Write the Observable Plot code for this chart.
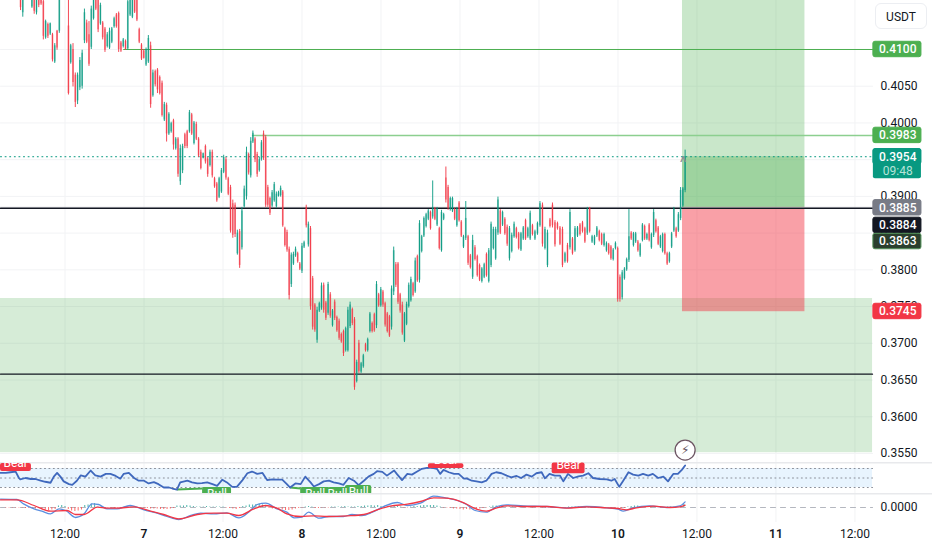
<!DOCTYPE html>
<html><head><meta charset="utf-8">
<script src="https://cdn.jsdelivr.net/npm/d3@7"></script>
<script src="https://cdn.jsdelivr.net/npm/@observablehq/plot@0.6"></script>
<style>
html,body{margin:0;padding:0;background:#fff;overflow:hidden}
#chart{position:relative;width:932px;height:550px;font-family:Roboto,sans-serif}
#chart svg{display:block}
#unit{position:absolute;left:875px;top:3px;width:52px;height:26px;line-height:26px;box-sizing:border-box;border:1px solid #eceef2;border-radius:6px;background:#fff;text-align:center;font-size:12px;color:#131722}
</style></head><body><div id="chart"><div id="unit">USDT</div></div>
<script>
// Candle values, in 0.0001 price steps
const highs=[4175,4176,4195,4198,4195,4172,4175,4175,4172,4170,
4175,4140,4136,4136,4122,4108,4126,4180,4195,4195,
4192,4175,4107,4108,4068,4068,4089,4099,4155,4140,
4138,4159,4172,4172,4176,4163,4138,4130,4123,4129,
4130,4144,4149,4151,4111,4115,4113,4170,4172,4172,
4174,4172,4129,4108,4100,4102,4119,4110,4072,4072,
4074,4064,4057,4028,4027,4014,4001,4005,3980,3980,
3970,3971,3986,3990,4017,4013,4002,4001,3980,3963,
3959,3970,3953,3963,3963,3926,3919,3926,3938,3956,
3953,3926,3915,3895,3891,3854,3855,3885,3914,3967,
3959,3980,3989,3980,3960,3953,3976,3989,3983,3915,
3899,3908,3919,3906,3907,3914,3908,3858,3854,3831,
3823,3824,3831,3824,3810,3836,3839,3888,3865,3859,
3791,3754,3749,3756,3782,3782,3757,3783,3769,3746,
3759,3737,3733,3714,3718,3722,3749,3756,3748,3735,
3677,3704,3674,3685,3700,3707,3742,3729,3741,3784,
3768,3776,3772,3756,3742,3738,3778,3831,3810,3810,
3768,3756,3742,3756,3782,3790,3783,3816,3820,3867,
3847,3872,3877,3882,3880,3921,3885,3885,3858,3881,
3877,3940,3915,3899,3899,3884,3885,3893,3867,3847,
3893,3847,3821,3847,3833,3820,3808,3803,3809,3823,
3829,3865,3858,3858,3899,3882,3880,3871,3861,3859,
3850,3865,3858,3851,3851,3859,3869,3858,3880,3862,
3854,3865,3893,3891,3858,3854,3870,3891,3867,3865,
3859,3858,3824,3836,3882,3844,3859,3859,3863,3866,
3858,3885,3885,3847,3847,3859,3854,3850,3850,3838,
3836,3833,3829,3838,3831,3793,3799,3803,3816,3882,
3852,3851,3851,3840,3836,3863,3861,3850,3863,3850,
3882,3869,3859,3847,3850,3850,3824,3824,3851,3885,
3858,3878,3912,3912,3963];
const lows=[4153,4144,4175,4176,4172,4156,4148,4147,4157,4160,
4113,4114,4115,4119,4083,4081,4099,4122,4172,4170,
4168,4038,4080,4049,4021,4025,4044,4046,4108,4108,
4077,4100,4140,4153,4123,4133,4113,4096,4102,4100,
4108,4129,4129,4096,4096,4102,4099,4099,4145,4142,
4149,4138,4108,4085,4087,4077,4081,4020,4035,4049,
4040,4038,4008,4002,3974,3983,3986,3963,3963,3926,
3915,3931,3965,3965,3986,3983,3970,3976,3953,3936,
3951,3944,3926,3940,3925,3911,3892,3897,3904,3931,
3922,3901,3850,3843,3844,3820,3802,3827,3884,3895,
3929,3925,3972,3946,3926,3933,3948,3949,3885,3885,
3874,3885,3892,3884,3899,3899,3858,3831,3824,3759,
3776,3806,3817,3809,3799,3795,3829,3857,3831,3745,
3718,3715,3700,3742,3745,3741,3731,3738,3734,3722,
3731,3715,3704,3700,3682,3688,3688,3720,3724,3636,
3646,3659,3659,3666,3688,3688,3714,3714,3715,3720,
3749,3749,3749,3722,3714,3708,3718,3765,3776,3753,
3741,3711,3701,3724,3748,3756,3763,3768,3783,3782,
3823,3844,3857,3867,3854,3869,3867,3859,3827,3824,
3867,3891,3881,3880,3878,3867,3858,3865,3844,3829,
3840,3806,3801,3787,3812,3790,3784,3782,3788,3790,
3782,3803,3827,3813,3847,3848,3859,3847,3832,3812,
3823,3843,3842,3827,3825,3840,3840,3843,3840,3846,
3840,3847,3858,3831,3827,3803,3857,3857,3831,3854,
3833,3803,3809,3809,3827,3820,3824,3844,3846,3850,
3836,3847,3850,3836,3833,3844,3838,3833,3831,3824,
3820,3813,3812,3827,3756,3756,3759,3786,3798,3810,
3840,3831,3836,3824,3817,3838,3840,3840,3838,3828,
3844,3850,3833,3829,3823,3820,3806,3809,3829,3851,
3843,3851,3867,3885,3905];
const opens=[4172,4150,4178,4192,4176,4158,4170,4150,4170,4168,
4165,4116,4134,4121,4120,4083,4125,4125,4190,4175,
4188,4132,4082,4100,4065,4030,4048,4050,4112,4136,
4120,4103,4142,4170,4172,4135,4136,4128,4104,4102,
4110,4131,4147,4149,4109,4104,4111,4101,4147,4144,
4170,4168,4127,4106,4098,4079,4083,4105,4037,4070,
4072,4062,4054,4004,4024,3985,3988,4003,3965,3978,
3920,3935,3984,3988,3988,4011,3972,3998,3978,3960,
3952,3968,3951,3942,3960,3924,3917,3899,3906,3933,
3950,3924,3912,3890,3888,3822,3852,3830,3886,3900,
3957,3928,3974,3978,3957,3935,3950,3985,3980,3912,
3897,3887,3894,3886,3900,3901,3906,3856,3851,3828,
3780,3808,3819,3822,3808,3798,3831,3885,3834,3856,
3788,3752,3704,3744,3748,3779,3755,3741,3766,3724,
3756,3735,3730,3712,3716,3690,3690,3723,3746,3732,
3648,3700,3661,3668,3698,3690,3716,3727,3739,3724,
3766,3751,3770,3754,3740,3736,3722,3770,3807,3808,
3766,3752,3703,3726,3750,3758,3781,3770,3818,3786,
3825,3846,3859,3869,3878,3872,3883,3861,3856,3826,
3869,3925,3912,3882,3880,3882,3860,3891,3865,3831,
3843,3845,3819,3790,3830,3818,3806,3784,3790,3821,
3784,3806,3829,3815,3850,3880,3861,3869,3858,3815,
3825,3845,3856,3849,3827,3842,3867,3845,3842,3860,
3842,3849,3860,3888,3829,3806,3868,3888,3864,3863,
3857,3855,3811,3833,3830,3842,3826,3846,3861,3864,
3856,3850,3883,3838,3835,3846,3852,3848,3833,3826,
3834,3831,3814,3829,3829,3790,3762,3788,3800,3813,
3850,3833,3838,3838,3819,3840,3859,3842,3861,3830,
3847,3867,3857,3831,3825,3848,3822,3811,3831,3853,
3856,3853,3870,3887,3908];
const closes=[4157,4172,4190,4180,4190,4170,4152,4172,4160,4162,
4118,4138,4118,4135,4086,4105,4102,4175,4176,4190,
4172,4040,4105,4055,4028,4065,4085,4095,4150,4110,
4080,4155,4170,4155,4127,4160,4116,4099,4120,4125,
4128,4142,4131,4100,4098,4113,4100,4165,4170,4170,
4151,4140,4110,4087,4088,4100,4115,4025,4068,4052,
4045,4040,4010,4025,3985,4012,3999,3970,3978,3930,
3965,3968,3968,3968,4014,3985,4000,3978,3955,3938,
3958,3947,3930,3960,3928,3913,3894,3924,3935,3953,
3925,3903,3853,3847,3848,3850,3806,3880,3910,3960,
3932,3975,3986,3950,3930,3950,3973,3952,3888,3888,
3877,3905,3916,3903,3905,3911,3860,3833,3827,3765,
3820,3821,3828,3811,3801,3832,3837,3860,3862,3750,
3722,3718,3745,3754,3778,3745,3734,3780,3737,3744,
3734,3717,3707,3702,3686,3720,3745,3752,3727,3640,
3674,3662,3672,3683,3690,3705,3740,3716,3717,3780,
3751,3773,3752,3725,3716,3710,3774,3826,3779,3756,
3744,3714,3740,3753,3779,3787,3765,3812,3785,3863,
3845,3870,3875,3880,3856,3885,3869,3883,3829,3878,
3875,3895,3884,3897,3897,3869,3883,3867,3846,3845,
3870,3809,3803,3840,3814,3792,3786,3801,3807,3792,
3826,3862,3855,3855,3895,3850,3878,3849,3835,3856,
3847,3862,3844,3829,3849,3857,3842,3856,3877,3848,
3852,3863,3890,3835,3855,3850,3859,3860,3834,3856,
3835,3806,3822,3811,3878,3822,3856,3857,3848,3852,
3838,3882,3852,3845,3845,3857,3840,3835,3848,3836,
3822,3815,3827,3836,3760,3760,3796,3801,3814,3845,
3842,3849,3849,3826,3834,3861,3842,3848,3840,3848,
3878,3852,3835,3845,3848,3822,3808,3822,3849,3882,
3845,3875,3908,3910,3954];
// Where bar numbers fall in time (hours after the 7th, 00:00)
const barAnchorRows=[0,99,129,159,179,199,229,249,259,294];
const barAnchorHours=[-18.76,15.57,25.29,35.32,41.85,48.53,59.01,66.61,70.25,82.2];

// RSI pane
const rsiHours=[-21.8,-21,-20.3,-19.5,-19,-18.8,-18,-17.2,-16.5,-15.7,-15,-14.2,-13.7,-13.2,-12.7,-12.2,-11.4,-10.9,-10.2,-9.6,-8.9,-8.1,-7.4,-6.6,-5.8,-5.1,-4.3,-3.6,-3.1,-2.3,-1.5,-0.8,0,0.7,1.5,2.2,3,3.8,4.3,5,5.5,6.6,7.3,8.1,8.8,9.6,10.4,11.1,11.9,12.6,13.4,14.1,14.9,15.7,16.4,17.2,18,18.7,19.5,20.2,21,21.7,22.2,23,23.8,24.5,25.3,25.8,26.6,27.3,28.1,28.8,29.6,30.3,31.1,31.9,32.6,33.4,34.1,34.9,35.4,36.2,36.9,38,38.4,39.2,40,40.7,41.5,42.2,43,43.8,44.5,45,45.5,46.3,47.1,47.8,48.6,49,49.8,50.5,51.3,52,52.8,53.5,54.3,55.1,55.8,56.6,57.3,58.1,58.9,59.6,60.4,60.9,61.6,62.4,63.2,63.7,64.4,65.2,66,66.7,67.5,68.2,69.2,70.3,71,71.5,72.2,72.8,73.6,74.3,75.1,75.8,76.6,77.3,78.1,78.9,79.6,80.4,81.1,81.7,82.2];
const rsiValues=[60.7,60.7,62.1,63.6,50,47.1,50,47.9,47.9,44.3,42.1,40,52.9,60.7,52.9,42.9,37.1,35.7,44.3,55.7,52.9,65.7,55.7,52.9,58.6,58.6,54.3,48.6,58.6,60.7,50,44.3,44.3,38.6,41.4,37.1,30,30,27.9,25.7,40.7,44.3,40.7,38.6,39.3,40.7,37.1,33.6,46.4,40.7,31.4,31.4,44.3,60,63.6,58.6,60.7,45.7,47.1,46.4,46.4,37.1,30,38.6,37.1,52.9,40.7,32.1,37.1,42.9,44.3,40.7,38.6,35.7,50,44.3,35,44.3,52.9,58.6,64.3,62.9,55,65.7,58.6,45.7,58.6,57.1,63.6,69.3,71.4,71.4,69.3,58.6,67.1,62.1,58.6,58.6,48.6,49.3,44.3,42.9,40.7,44.3,58.6,62.1,60,55,51.4,54.3,50,57.1,52.9,60,62.1,49.3,58.6,55,55,42.9,58.6,50,53.6,55,60,50,47.9,47.1,44.3,47.9,31.4,44.3,62.1,57.1,55,58.6,55,58.6,50,52.9,42.9,58.6,58.6,67.1,76.4];
const rsiLevels=[70,50,30];
const tagNames=["Bear","Bear","Bear","Bull","Bull","Bull","Bull"];
const tagStart=[-21.8,43.2,62,8.9,23.8,28,30.6];
const tagEnd=[-17.1,48.6,67,13.3,28.3,30.8,34.6];
const tagHigh=[80.5,80,81.6,30,30,30,34];
const tagLow=[63.7,70,59,15,15,15,15];
const tagTextHour=[-19.5,45.9,64.5,11.1,26,29.4,32.6];
const tagTextLevel=[80.5,88,76,15,15,15,21];
const tagColor=["#f23645","#f23645","#f23645","#4caf50","#4caf50","#4caf50","#4caf50"];
const divStartHour=[5,22.2];const divStartRsi=[25.7,30];
const divEndHour=[8.9,23.8];const divEndRsi=[28,28];

// MACD pane, in 0.0001 price steps
const macdHours=[-21.8,-19.3,-18.3,-16.7,-15.5,-14.2,-12.9,-11.9,-10.4,-9.1,-7.9,-6.9,-5.6,-4.1,-2.1,0,2,3.5,5.3,7.1,8.6,10.6,12.6,14.4,15.9,17.2,18.5,20.2,21.7,22.8,24,25,26.6,28.1,30.3,31.6,33.1,34.7,36.4,38.5,40,42,44,45.8,47.6,49,50.3,52,53.6,55.1,57.6,61.2,64.2,67.2,70.3,72,72.8,74.3,76.8,79.4,81.4,82.2];
const macdValues=[16.7,16,7.3,-2.7,-7.3,-12.7,-2.7,-6,-20,-12.7,7.3,6,-2.7,-2.7,4,-4.7,-11.3,-18,-24,-16,-11.3,-12.7,-10.7,-20.7,-9.3,6,8.7,-2.7,-9.3,-20.7,-19.3,-9.3,-21.3,-18,-18,-14,-16,-9.3,2,10,4,8.7,22.7,19.3,14,6,-6,-9.3,2,5.3,3.3,2,-0.7,2,-0.7,-3.3,-7.3,-0.7,3.3,0,3.3,11.3];
const signalHours=[-21.8,-19.3,-16.7,-14.2,-11.7,-10.4,-9.1,-7.1,-5.6,-4.1,-1.5,1,3,5.3,8.1,10.6,12.6,14.4,16.7,18.5,20.2,21.7,23.8,25.8,27.8,30.9,33.4,35.4,37.4,40,42,44,46,48.6,50.5,52,53.6,55.1,57.6,61.2,64.2,67.2,70.3,72,73.3,74.8,77.4,79.9,81.4,82.2];
const signalValues=[15.3,15.3,4,-7.3,-6,-14,-14,0.7,-1.3,-1.3,1.3,-7.3,-14,-22.7,-14,-11.3,-11.3,-16,-2.7,4,-1.3,-12.7,-18,-16.7,-18,-16.7,-14,-4.7,2.7,6.7,12,19.3,18.7,9.3,-3.3,-7.3,-0.7,3.3,2,2,-1.3,1.3,-0.7,-2,-4.7,-0.7,2.7,0,1.3,4.7];
const histFirstHour=-21,histStepHours=0.5;
const histValues=[-1,-1,-1,-1,-1,-1,-2,-2,-2,-3,-2,-3,-5,-6,-5,-4,3,4,2,-4,-7,-8,-7,-5,4,5,7,8,1,2,-1,-1,-1,-2,-1,-1,1,1,1,2,-1,-1,-2,-2,-3,-3,-3,-4,-4,-4,-3,-2,3,3,3,4,3,2,1,1,1,2,1,1,1,1,1,-1,-2,-3,-4,-2,2,3,5,5,6,7,5,3,-2,-3,-4,-5,-5,-6,-6,-5,-3,-2,-1,1,2,1,-2,-2,-1,-1,-1,1,1,1,1,2,1,1,1,2,2,3,3,4,3,4,2,2,1,2,3,2,1,-1,-1,1,2,2,3,4,4,4,4,3,1,-1,-1,-2,-3,-3,-4,-5,-4,-5,-4,-4,-3,-2,-1,1,3,3,2,2,1,1,1,-1,-1,1,1,-1,-1,1,1,-1,-1,-1,-1,-1,-1,-1,-1,1,1,1,1,-1,-1,-1,-1,-1,-1,-1,-1,-1,-1,-1,-1,-2,-2,1,2,3,3,2,1,1,-1,1,1,-1,-1,1,1,1,2,3,6];

// Levels and labels
const priceTicks=[0.41,0.405,0.40,0.395,0.39,0.385,0.38,0.375,0.37,0.365,0.36,0.355];
const labelTexts=["0.4100","0.3983","0.3954","0.3885","0.3884","0.3863","0.3745"];
const labelPrices=[0.41,0.3983,0.3954,0.38845,0.38605,0.38385,0.37433];
const labelColors=["#4caf50","#4caf50","#089981","#787b86","#131722","#2a3f2e","#f23645"];
const labelBorders=["#4caf50","#4caf50","#089981","#787b86","#131722","#4f8f56","#f23645"];
const hourTicks=[-12,12,36,60,84,108];
const dayTicks=[0,24,48,72,96];

const FONT="Roboto,sans-serif",INK="#131722",GRID="#f2f3f5";
const BASE=Date.UTC(2025,0,7);
const t=h=>new Date(BASE+h*36e5);
const xDomain=[t(-21.8),t(119.78)];
const AXIS_HOUR=110.67, LABEL_L=110.8, LABEL_R=118.1, LABEL_MID=114.5;
const gridHours=[...hourTicks,...dayTicks];
const hourToBar=d3.scaleLinear().domain(barAnchorRows).range(barAnchorHours);
const bars=highs.map((h,i)=>({time:t(hourToBar(i)),high:h/1e4,low:lows[i]/1e4,open:opens[i]/1e4,close:closes[i]/1e4,up:closes[i]>=opens[i]}));
const candleColor=d=>d.up?"#089981":"#f23645";
const gridX=()=>Plot.ruleX(gridHours.map(t),{stroke:GRID,strokeWidth:1});
const seg=(y,from,opts)=>Plot.line([{x:t(from),y},{x:t(AXIS_HOUR),y}],{x:"x",y:"y",...opts});

const rects=[
 {x1:t(-21.8),x2:t(AXIS_HOUR),y1:0.3761,y2:0.3551,fill:"#4caf50",o:0.23},
 {x1:t(81.8),x2:t(100.4),y1:0.43,y2:0.3885,fill:"#4caf50",o:0.3},
 {x1:t(81.8),x2:t(100.4),y1:0.3954,y2:0.3885,fill:"#4caf50",o:0.35},
 {x1:t(81.8),x2:t(100.4),y1:0.3885,y2:0.3743,fill:"#f23645",o:0.47}];
const labelRows=labelTexts.map((s,i)=>({s,y:labelPrices[i],fill:labelColors[i],stroke:labelBorders[i]}));
const HALF=0.00105;

const price=Plot.plot({width:932,height:462,margin:0,
 style:{fontFamily:FONT,fontSize:"12px",background:"transparent"},
 x:{type:"utc",domain:xDomain,axis:null},
 y:{domain:[0.35377,0.41667],axis:null},
 marks:[
  gridX(),
  ...priceTicks.map(p=>seg(p,-21.8,{stroke:GRID,strokeWidth:1})),
  Plot.rect(rects,{x1:"x1",x2:"x2",y1:"y1",y2:"y2",fill:"fill",fillOpacity:"o"}),
  seg(0.41,-3.1,{stroke:"#4caf50",strokeWidth:1}),
  seg(0.3983,16.5,{stroke:"#8ccf8f",strokeWidth:1.6}),
  seg(0.3954,-21.8,{stroke:"#089981",strokeWidth:1,strokeDasharray:"1 3.6"}),
  seg(0.3885,-21.8,{stroke:"#9a9ca3",strokeWidth:1}),
  seg(0.38837,-21.8,{stroke:INK,strokeWidth:1.2}),
  seg(0.3658,-21.8,{stroke:INK,strokeWidth:1.2}),
  Plot.ruleX(bars,{x:"time",y1:"low",y2:"high",stroke:candleColor,strokeWidth:1,strokeOpacity:0.9}),
  Plot.ruleX(bars,{x:"time",y1:"open",y2:"close",stroke:candleColor,strokeWidth:1.7,strokeOpacity:0.55}),
  Plot.text([{x:t(81.9),y:0.3946}],{x:"x",y:"y",text:()=>"^",fill:"#8a8e98",fontSize:16}),
  Plot.dot([{x:t(82.2),y:0.35546}],{x:"x",y:"y",r:10,fill:"#fff",stroke:"#6d5563",strokeWidth:1.3}),
  Plot.text([{x:t(82.2),y:0.35546}],{x:"x",y:"y",text:()=>"⚡",fill:"#5c4a56",fontSize:12,fontFamily:"DejaVu Sans"}),
  Plot.text(priceTicks,{x:()=>t(LABEL_MID+0.2),y:d=>d,text:d=>d.toFixed(4),fill:INK,fontSize:12}),
  Plot.rect(labelRows,{x1:()=>t(LABEL_L),x2:()=>t(LABEL_R),y1:d=>d.y-HALF,y2:d=>d.y+HALF,fill:"fill",stroke:"stroke",rx:2}),
  Plot.rect([labelRows[2]],{x1:()=>t(LABEL_L),x2:()=>t(LABEL_R),y1:d=>d.y-0.0030,y2:d=>d.y+HALF,fill:"fill",rx:2}),
  Plot.text(labelRows,{x:()=>t(LABEL_MID),y:"y",text:"s",fill:"#fff",fontSize:12,fontWeight:500}),
  Plot.text([{y:0.3935}],{x:()=>t(LABEL_MID),y:"y",text:()=>"09:48",fill:"#b5e3d8",fontSize:12})
 ]});

const tags=tagNames.map((s,i)=>({s,x1:t(tagStart[i]),x2:t(tagEnd[i]),y1:tagHigh[i],y2:tagLow[i],fill:tagColor[i],tx:t(tagTextHour[i]),ty:tagTextLevel[i]}));
const rsiRows=rsiHours.map((h,i)=>({x:t(h),y:rsiValues[i]}));
const rsi=Plot.plot({width:932,height:31,margin:0,
 style:{fontFamily:FONT,fontSize:"12px",background:"transparent"},
 x:{type:"utc",domain:xDomain,axis:null},
 y:{domain:[17.4,82.6],axis:null},
 marks:[
  gridX(),
  Plot.rect([{}],{x1:()=>t(-21.8),x2:()=>t(AXIS_HOUR),y1:()=>30,y2:()=>70,fill:"#2196f3",fillOpacity:0.1}),
  Plot.ruleY([82.6],{stroke:"#e8e9ec",strokeWidth:2}),
  ...rsiLevels.map(v=>seg(v,-21.8,{stroke:"#8a8e98",strokeWidth:1,strokeDasharray:"1 3.4"})),
  Plot.link(divStartHour.map((h,i)=>({x1:t(h),y1:divStartRsi[i],x2:t(divEndHour[i]),y2:divEndRsi[i]})),{x1:"x1",y1:"y1",x2:"x2",y2:"y2",stroke:"#4caf50",strokeWidth:2}),
  Plot.line(rsiRows,{x:"x",y:"y",stroke:"#3f68bd",strokeWidth:1.8}),
  Plot.rect(tags,{x1:"x1",x2:"x2",y1:"y1",y2:"y2",fill:"fill",rx:2}),
  Plot.text(tags,{x:"tx",y:"ty",text:"s",fill:"#fff",fontSize:12})
 ]});

const histRows=histValues.map((v,i)=>({x:t(histFirstHour+i*histStepHours),v}));
const macd=Plot.plot({width:932,height:57,marginTop:0,marginLeft:0,marginRight:0,marginBottom:28,
 style:{fontFamily:FONT,fontSize:"12px",background:"transparent"},
 x:{type:"utc",domain:xDomain,axis:null},
 y:{domain:[-30,28],axis:null},
 marks:[
  gridX(),
  Plot.ruleY([28],{stroke:"#e8e9ec",strokeWidth:2}),
  seg(0,-21.8,{stroke:"#b4b7bf",strokeWidth:1,strokeDasharray:"5 5"}),
  Plot.ruleX(histRows,{x:"x",y1:()=>0,y2:"v",stroke:d=>d.v>=0?"#26a69a":"#ff5252",strokeWidth:1,strokeOpacity:0.85}),
  Plot.line(macdHours.map((h,i)=>({x:t(h),y:macdValues[i]})),{x:"x",y:"y",stroke:"#5b8fe0",strokeWidth:1.3,curve:"monotone-x"}),
  Plot.line(signalHours.map((h,i)=>({x:t(h),y:signalValues[i]})),{x:"x",y:"y",stroke:"#f23645",strokeWidth:1.3,curve:"monotone-x"}),
  Plot.text([0],{x:()=>t(LABEL_MID+0.2),y:()=>0,text:()=>"0.0000",fill:INK,fontSize:12}),
  Plot.axisX(hourTicks.map(t),{anchor:"bottom",tickSize:0,tickPadding:7,label:null,tickFormat:()=>"12:00",fill:INK,fontSize:12}),
  Plot.axisX(dayTicks.map(t),{anchor:"bottom",tickSize:0,tickPadding:7,label:null,tickFormat:d=>String(d.getUTCDate()),fill:INK,fontSize:12,fontWeight:600})
 ]});

const host=document.getElementById("chart");
host.append(price,rsi,macd);
</script></body></html>
